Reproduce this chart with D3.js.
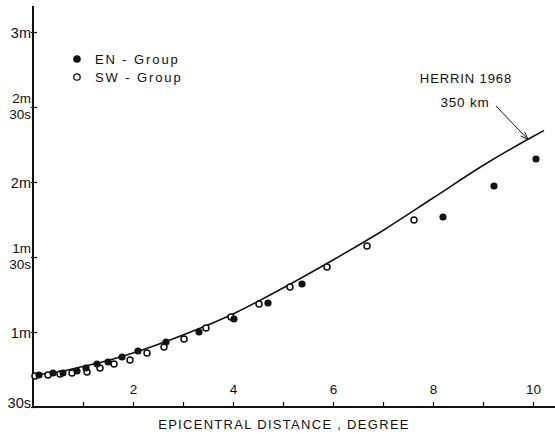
<!DOCTYPE html>
<html>
<head>
<meta charset="utf-8">
<script src="https://cdn.jsdelivr.net/npm/d3@7"></script>
<style>
  body { margin: 0; background: #fff; }
  svg { display: block; }
  text { font-family: "Liberation Sans", Arial, sans-serif; fill: #111; }
</style>
</head>
<body>
<svg width="555" height="435"></svg>
<script>
// Herrin 1968 travel time curve for 350 km depth (degree, seconds)
const herrinDeg = [0, 0.5, 1, 1.5, 2, 3, 4, 5, 6, 7, 8, 9, 10, 10.22];
const herrinSec = [42.8, 44.0, 46.2, 48.6, 51.6, 58.8, 67.2, 77.6, 88.8, 100.6, 113.6, 126.6, 138.2, 140.6];

// EN-Group observations (filled)
const enDeg = [0.12, 0.40, 0.60, 0.88, 1.06, 1.28, 1.50, 1.78, 2.10, 2.66, 3.32, 4.02, 4.70, 5.38, 8.20, 9.22, 10.06];
const enSec = [42.8, 43.6, 43.6, 44.4, 45.6, 47.2, 48.0, 50.0, 52.4, 56.0, 60.0, 65.2, 71.6, 79.2, 106.0, 118.4, 129.2];

// SW-Group observations (open)
const swDeg = [0.04, 0.30, 0.54, 0.78, 1.08, 1.34, 1.62, 1.94, 2.28, 2.62, 3.02, 3.46, 3.96, 4.52, 5.14, 5.88, 6.68, 7.62];
const swSec = [42.4, 42.8, 43.2, 43.6, 44.0, 45.6, 47.2, 48.8, 51.6, 54.0, 57.2, 61.6, 66.0, 71.2, 78.0, 86.0, 94.4, 104.8];

// axis ticks
const yTicks = [30, 60, 90, 120, 150, 180];
const yTickLabels = [["30s"], ["1m"], ["1m", "30s"], ["2m"], ["2m", "30s"], ["3m"]];
const xTicks = [1, 2, 3, 4, 5, 6, 7, 8, 9, 10];

const svg = d3.select("svg");
const width = +svg.attr("width");

const x = d3.scaleLinear().domain([0, 10]).range([33, 533]);
const y = d3.scaleLinear().domain([30, 180]).range([407, 32]);

// axis lines
svg.append("line")
    .attr("x1", x(0)).attr("x2", x(0))
    .attr("y1", 6).attr("y2", y(30) + 1)
    .attr("stroke", "#111").attr("stroke-width", 2);
svg.append("line")
    .attr("x1", x(0) - 1).attr("x2", width)
    .attr("y1", y(30)).attr("y2", y(30))
    .attr("stroke", "#111").attr("stroke-width", 2);

// x axis: ticks upward, even labels above
const xAxis = svg.append("g")
    .attr("transform", `translate(0,${y(30)})`)
    .call(d3.axisTop(x).tickValues(xTicks).tickSize(5).tickPadding(8)
        .tickFormat(d => d % 2 === 0 ? d : ""));
xAxis.select(".domain").remove();
xAxis.selectAll("line").attr("stroke", "#111").attr("stroke-width", 1.2);
xAxis.selectAll("text").style("font-size", "13.5px").attr("fill", "#111");

// y axis: short ticks across the axis, labels to the left
const yAxis = svg.append("g")
    .attr("transform", `translate(${x(0)},0)`)
    .call(d3.axisLeft(y).tickValues(yTicks).tickSize(-4).tickPadding(3).tickFormat(""));
yAxis.select(".domain").remove();
yAxis.selectAll("line").attr("x1", -2).attr("stroke", "#111").attr("stroke-width", 1.2);
yAxis.selectAll(".tick").each(function(d, i) {
    const lines = yTickLabels[i];
    const g = d3.select(this);
    g.select("text").remove();
    if (lines.length === 1) {
        g.append("text")
            .attr("x", -2).attr("text-anchor", "end")
            .attr("dy", i === 0 ? "0.05em" : "0.35em")
            .style("font-size", "14.5px")
            .text(lines[0]);
    } else {
        // two-line label, one text per line
        g.append("text").attr("x", -2).attr("y", -5).attr("text-anchor", "end")
            .style("font-size", "13.5px").text(lines[0]);
        g.append("text").attr("x", -2).attr("y", 11).attr("text-anchor", "end")
            .style("font-size", "13.5px").text(lines[1]);
    }
});

// x axis title
svg.append("text")
    .attr("x", 284).attr("y", 429)
    .attr("text-anchor", "middle")
    .style("font-size", "13px")
    .style("letter-spacing", "1.3px")
    .text("EPICENTRAL DISTANCE , DEGREE");

// Herrin curve
const herrin = herrinDeg.map((d, i) => ({ deg: d, sec: herrinSec[i] }));
const line = d3.line()
    .x(d => x(d.deg))
    .y(d => y(d.sec))
    .curve(d3.curveMonotoneX);
svg.append("path")
    .datum(herrin)
    .attr("d", line)
    .attr("fill", "none")
    .attr("stroke", "#111")
    .attr("stroke-width", 1.5);

// points
const sw = swDeg.map((d, i) => ({ deg: d, sec: swSec[i] }));
const en = enDeg.map((d, i) => ({ deg: d, sec: enSec[i] }));

svg.selectAll(".sw").data(sw).enter().append("circle")
    .attr("class", "sw")
    .attr("cx", d => x(d.deg)).attr("cy", d => y(d.sec))
    .attr("r", 3)
    .attr("fill", "#fff").attr("stroke", "#111").attr("stroke-width", 1.5);

svg.selectAll(".en").data(en).enter().append("circle")
    .attr("class", "en")
    .attr("cx", d => x(d.deg)).attr("cy", d => y(d.sec))
    .attr("r", 3.6)
    .attr("fill", "#111");

// legend
const legend = svg.append("g").attr("transform", "translate(77,59)");
legend.append("circle").attr("cx", 0).attr("cy", 0).attr("r", 3.8).attr("fill", "#111");
legend.append("circle").attr("cx", 0).attr("cy", 18).attr("r", 3.2)
    .attr("fill", "#fff").attr("stroke", "#111").attr("stroke-width", 1.3);
legend.append("text").attr("x", 18).attr("y", 5).style("font-size", "13px")
    .style("letter-spacing", "1.9px").text("EN - Group");
legend.append("text").attr("x", 18).attr("y", 23).style("font-size", "13px")
    .style("letter-spacing", "1.9px").text("SW - Group");

// annotation
svg.append("text")
    .attr("x", 466).attr("y", 83)
    .attr("text-anchor", "middle")
    .style("font-size", "13px")
    .style("letter-spacing", "0.9px")
    .text("HERRIN 1968");
svg.append("text")
    .attr("x", 465).attr("y", 107)
    .attr("text-anchor", "middle")
    .style("font-size", "13.5px")
    .style("letter-spacing", "0.8px")
    .text("350 km");

const tip = [x(9.9), y(137.0)];
const tail = [496, 106];
svg.append("line")
    .attr("x1", tail[0]).attr("y1", tail[1])
    .attr("x2", tip[0]).attr("y2", tip[1])
    .attr("stroke", "#111").attr("stroke-width", 1);
const ang = Math.atan2(tip[1] - tail[1], tip[0] - tail[0]);
const headLen = 8;
[-0.35, 0.35].forEach(a => {
    svg.append("line")
        .attr("x1", tip[0]).attr("y1", tip[1])
        .attr("x2", tip[0] - headLen * Math.cos(ang + a))
        .attr("y2", tip[1] - headLen * Math.sin(ang + a))
        .attr("stroke", "#111").attr("stroke-width", 1);
});
</script>
</body>
</html>
